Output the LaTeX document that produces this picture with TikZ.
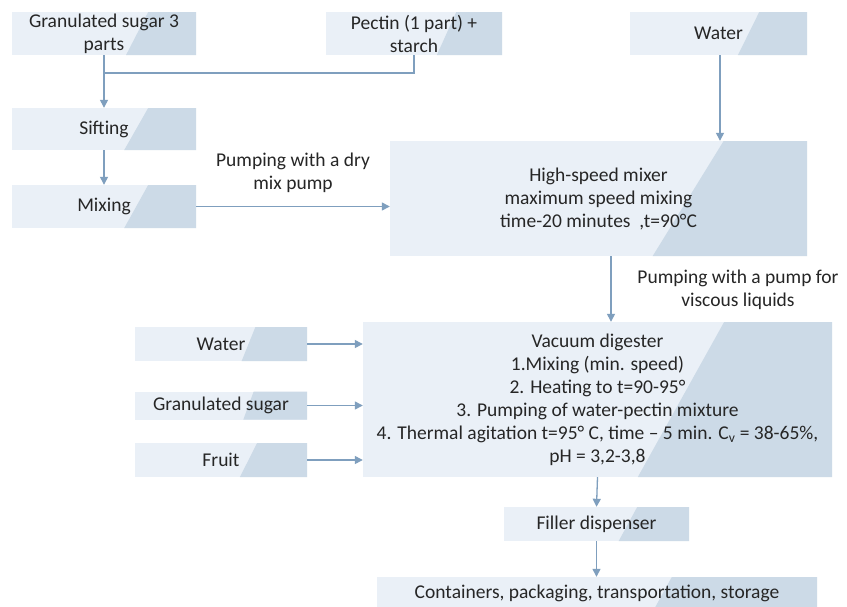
\documentclass[tikz,border=0pt]{standalone}
\usepackage{fontspec}
\setmainfont{Carlito}
\usetikzlibrary{arrows.meta,calc}
\definecolor{lightc}{HTML}{EAF0F7}
\definecolor{darkc}{HTML}{CCDAE7}
\definecolor{linec}{HTML}{7F9FBE}
\definecolor{txtc}{HTML}{262626}
\begin{document}
\begin{tikzpicture}[x=1pt,y=-1pt,
  box/.style={fill=lightc, inner sep=0pt, align=center, text=txtc, font=\fontsize{19.5}{23}\selectfont},
  darkpart/.style 2 args={path picture={\fill[darkc]
     ($(path picture bounding box.south west)!#1!(path picture bounding box.south east)$) --
     ($(path picture bounding box.north west)!#2!(path picture bounding box.north east)$) --
     (path picture bounding box.north east) -- (path picture bounding box.south east) -- cycle;}},
  flow/.style={draw=linec, line width=1.3pt, -{Triangle[length=8pt,width=8pt]}},
  joinline/.style={draw=linec, line width=1.3pt},
  lbl/.style={align=center, text=txtc, inner sep=0pt, font=\fontsize{19.5}{23}\selectfont}]
\useasboundingbox (0,0) rectangle (847,606);
\clip (0,0) rectangle (847,606);
\fill[white] (0,0) rectangle (847,606);

% top row
\node[box, minimum width=184pt, minimum height=43pt, darkpart={0.62}{0.74}] (sugar3) at (104,33.5) {Granulated sugar 3\\parts};
\node[box, minimum width=176pt, minimum height=43pt, darkpart={0.63}{0.74}] (pectin) at (414,33.5) {Pectin (1 part) +\\starch};
\node[box, minimum width=177pt, minimum height=43pt, darkpart={0.61}{0.73}] (water1) at (718.5,33.5) {Water};

% left column
\node[box, minimum width=184pt, minimum height=42pt, darkpart={0.61}{0.74}] (sifting) at (104,129) {Sifting};
\node[box, minimum width=184pt, minimum height=43pt, darkpart={0.61}{0.74}] (mixing) at (104,206.5) {Mixing};

% mixer
\node[box, minimum width=417pt, minimum height=115pt, darkpart={0.63}{0.80}] (mixer) at (598.5,198.5) {High-speed mixer\\maximum speed mixing\\time-20 minutes\ \ ,t=90°C};

% digester
\node[box, minimum width=469pt, minimum height=155pt, darkpart={0.586}{0.77}] (digester) at (597.5,399.5) {Vacuum digester\\1.Mixing (min. speed)\\2. Heating to t=90-95°\\3. Pumping of water-pectin mixture\\4. Thermal agitation t=95° C, time -- 5 min. C\textsubscript{v} = 38-65\%,\\pH = 3,2-3,8};

% left inputs
\node[box, minimum width=172pt, minimum height=34pt, darkpart={0.62}{0.70}] (water2) at (221,344) {Water};
\node[box, minimum width=172pt, minimum height=28pt, darkpart={0.63}{0.69}] (gsugar) at (221,405.5) {Granulated sugar};
\node[box, minimum width=172pt, minimum height=34pt, darkpart={0.61}{0.71}] (fruit) at (221,460) {Fruit};

% bottom
\node[box, minimum width=185pt, minimum height=34pt, darkpart={0.62}{0.72}] (filler) at (596.5,524) {Filler dispenser};
\node[box, minimum width=440pt, minimum height=32pt, darkpart={0.63}{0.67}] (containers) at (597,593) {Containers, packaging, transportation, storage};

% labels
\node[lbl] (lbldry) at (293,173) {Pumping with a dry\\mix pump};
\node[lbl] (lblvisc) at (738,290) {Pumping with a pump for\\viscous liquids};

% connectors
\coordinate (jn) at (104,73);
\draw[joinline] (pectin.south) |- (jn);
\draw[flow] (sugar3.south) -- (sifting.north);
\draw[flow] (sifting.south) -- (mixing.north);
\draw[flow] (mixing.east) -- (mixing.east -| mixer.west);
\draw[flow] ([xshift=1.5pt]water1.south) -- ([xshift=1.5pt]water1.south |- mixer.north);
\draw[flow] ([xshift=12.5pt]mixer.south) -- ([xshift=12.5pt]mixer.south |- digester.north);
\draw[flow] (water2.east) -- (water2.east -| digester.west);
\draw[flow] (gsugar.east) -- (gsugar.east -| digester.west);
\draw[flow] (fruit.east) -- (fruit.east -| digester.west);
\draw[flow] (digester.south) -- (filler.north);
\draw[flow] (filler.south) -- (filler.south |- containers.north);
\end{tikzpicture}
\end{document}
